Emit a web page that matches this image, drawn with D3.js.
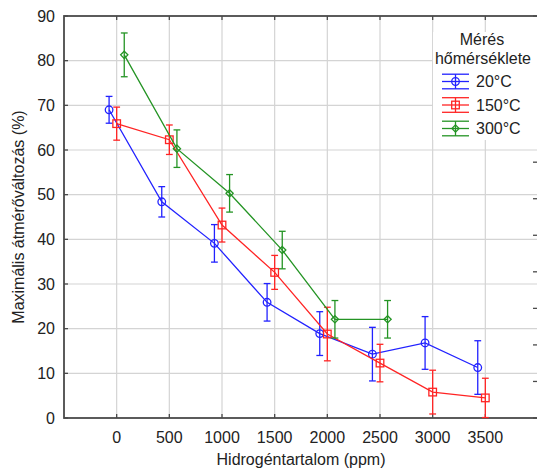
<!DOCTYPE html>
<html>
<head>
<meta charset="utf-8">
<script src="https://cdn.jsdelivr.net/npm/d3@7/dist/d3.min.js"></script>
<style>
    html, body { margin: 0; padding: 0; background: #fff; }
    svg { display: block; font-family: 'Liberation Sans', Arial, sans-serif; }
</style>
</head>
<body>
<svg id="chart" width="537" height="468"></svg>
<script>
// hydrogen content categories (ppm)
const hydrogen = [0, 500, 1000, 1500, 2000, 2500, 3000, 3500]
const xTicks = [0, 500, 1000, 1500, 2000, 2500, 3000, 3500]
const yTicks = [0, 10, 20, 30, 40, 50, 60, 70, 80, 90]

// measurement temperatures
const seriesNames = ['20°C', '150°C', '300°C']
const values20 = [69.0, 48.4, 39.1, 25.9, 18.9, 14.3, 16.8, 11.3]
const err20 = [3.0, 3.4, 4.2, 4.2, 4.9, 6.0, 5.9, 6.0]
const values150 = [65.9, 62.3, 43.2, 32.6, 18.8, 12.3, 5.8, 4.5]
const err150 = [3.7, 3.3, 3.8, 3.8, 6.0, 4.2, 4.9, 4.4]
const values300 = [81.3, 60.3, 50.3, 37.6, 22.1, 22.1]
const err300 = [4.9, 4.2, 4.2, 4.2, 4.2, 4.2]

const BLUE = '#2222ff'
const RED = '#ff2424'
const GREEN = '#249424'
const GRID = '#d4d4d4'
const AXIS = '#4a4a4a'
const TEXT = '#222'
const FONT = 16

// small horizontal dodge so the error bars do not overlap (ppm)
const series = [
    {name: seriesNames[0], values: values20, err: err20, color: BLUE, shape: 'circle', dodge: -72},
    {name: seriesNames[1], values: values150, err: err150, color: RED, shape: 'square', dodge: 0},
    {name: seriesNames[2], values: values300, err: err300, color: GREEN, shape: 'diamond', dodge: 72}
]

const margin = {left: 64, top: 16, right: -1, bottom: 50}
const width = 537, height = 468
const svg = d3.select('#chart')

const x = d3.scaleLinear().domain([-500, 4000]).range([margin.left, width - margin.right])
const y = d3.scaleLinear().domain([0, 90]).range([height - margin.bottom, margin.top])
// second (unlabelled) scale on the right frame
const yRight = d3.scaleLinear().domain([0, 11]).range(y.range())

const x0 = x.range()[0], x1 = x.range()[1]
const y0 = y.range()[0], y1 = y.range()[1]

// grid
svg.append('g').selectAll('line.vgrid')
    .data(xTicks).enter().append('line')
        .attr('x1', (d) => x(d)).attr('x2', (d) => x(d))
        .attr('y1', y1).attr('y2', y0)
        .attr('stroke', GRID).attr('stroke-width', 1.2)

svg.append('g').selectAll('line.hgrid')
    .data(yTicks.slice(1, -1)).enter().append('line')
        .attr('x1', x0).attr('x2', x1)
        .attr('y1', (d) => y(d)).attr('y2', (d) => y(d))
        .attr('stroke', GRID).attr('stroke-width', 1.2)

// inward ticks
const ticks = svg.append('g').attr('stroke', AXIS).attr('stroke-width', 1.3)
ticks.selectAll('.tb').data(xTicks).enter().append('line')
    .attr('x1', (d) => x(d)).attr('x2', (d) => x(d)).attr('y1', y0).attr('y2', y0 - 4)
ticks.selectAll('.tt').data(xTicks).enter().append('line')
    .attr('x1', (d) => x(d)).attr('x2', (d) => x(d)).attr('y1', y1).attr('y2', y1 + 4)
ticks.selectAll('.tl').data(yTicks).enter().append('line')
    .attr('x1', x0).attr('x2', x0 + 4).attr('y1', (d) => y(d)).attr('y2', (d) => y(d))
ticks.selectAll('.tr').data(d3.range(0, 12)).enter().append('line')
    .attr('x1', x1).attr('x2', x1 - 5).attr('y1', (d) => yRight(d)).attr('y2', (d) => yRight(d))

// frame
svg.append('rect')
    .attr('x', x0).attr('y', y1)
    .attr('width', x1 - x0).attr('height', y0 - y1)
    .attr('fill', 'none').attr('stroke', AXIS).attr('stroke-width', 1.8)

// tick labels
svg.append('g').selectAll('text')
    .data(xTicks).enter().append('text')
        .attr('x', (d) => x(d)).attr('y', y0 + 25)
        .attr('text-anchor', 'middle')
        .attr('font-size', FONT).attr('fill', TEXT)
        .text((d) => d)

svg.append('g').selectAll('text')
    .data(yTicks).enter().append('text')
        .attr('x', x0 - 9).attr('y', (d) => y(d) + 5.7)
        .attr('text-anchor', 'end')
        .attr('font-size', FONT).attr('fill', TEXT)
        .text((d) => d)

// axis titles
svg.append('text')
    .attr('x', 301).attr('y', 465)
    .attr('text-anchor', 'middle').attr('font-size', FONT).attr('fill', TEXT)
    .text('Hidrogéntartalom (ppm)')

svg.append('text')
    .attr('transform', `translate(24, ${(y0 + y1) / 2}) rotate(-90)`)
    .attr('text-anchor', 'middle').attr('font-size', FONT).attr('fill', TEXT)
    .text('Maximális átmérőváltozás (%)')

// markers
const drawMarker = (g, shape, color, cx, cy) => {
    if (shape === 'circle') {
        g.append('circle').attr('cx', cx).attr('cy', cy).attr('r', 3.8)
            .attr('fill', 'none').attr('stroke', color).attr('stroke-width', 1.3)
    } else if (shape === 'square') {
        g.append('rect').attr('x', cx - 3.8).attr('y', cy - 3.8).attr('width', 7.6).attr('height', 7.6)
            .attr('fill', 'none').attr('stroke', color).attr('stroke-width', 1.3)
    } else {
        g.append('path').attr('d', `M${cx},${cy - 3.6}L${cx + 3.6},${cy}L${cx},${cy + 3.6}L${cx - 3.6},${cy}Z`)
            .attr('fill', 'none').attr('stroke', color).attr('stroke-width', 1.3)
    }
}

const line = d3.line()
    .x((d) => x(d.h))
    .y((d) => y(d.v))

series.forEach((s) => {
    const pts = s.values.map((v, i) => ({h: hydrogen[i] + s.dodge, v: v, e: s.err[i]}))
    const g = svg.append('g')

    g.append('path')
        .datum(pts)
        .attr('d', line)
        .attr('fill', 'none').attr('stroke', s.color).attr('stroke-width', 1.3)

    pts.forEach((p) => {
        const px = x(p.h)
        g.append('line').attr('x1', px).attr('x2', px)
            .attr('y1', y(p.v + p.e)).attr('y2', y(p.v - p.e))
            .attr('stroke', s.color).attr('stroke-width', 1.3)
        ;[p.v + p.e, p.v - p.e].forEach((v) => {
            g.append('line').attr('x1', px - 3.4).attr('x2', px + 3.4)
                .attr('y1', y(v)).attr('y2', y(v))
                .attr('stroke', s.color).attr('stroke-width', 1.3)
        })
        drawMarker(g, s.shape, s.color, px, y(p.v))
    })
})

// legend
const legend = svg.append('g')
legend.append('rect')
    .attr('x', 433).attr('y', 32).attr('width', 110).attr('height', 108)
    .attr('fill', '#fff')
legend.append('text')
    .attr('x', 482).attr('y', 45).attr('text-anchor', 'middle')
    .attr('font-size', FONT).attr('fill', TEXT).text('Mérés')
legend.append('text')
    .attr('x', 483).attr('y', 64).attr('text-anchor', 'middle')
    .attr('font-size', FONT).attr('fill', TEXT).text('hőmérséklete')

series.forEach((s, i) => {
    const cy = 81.5 + i * 23.5
    const g = legend.append('g')
    ;[-7.3, 0, 7.3].forEach((dy) => {
        g.append('line').attr('x1', 442).attr('x2', 469)
            .attr('y1', cy + dy).attr('y2', cy + dy)
            .attr('stroke', s.color).attr('stroke-width', 1.3)
    })
    g.append('line').attr('x1', 455.5).attr('x2', 455.5)
        .attr('y1', cy - 7.3).attr('y2', cy + 7.3)
        .attr('stroke', s.color).attr('stroke-width', 1.3)
    drawMarker(g, s.shape, s.color, 455.5, cy)
    g.append('text')
        .attr('x', 476).attr('y', cy + 5.7)
        .attr('font-size', FONT).attr('fill', TEXT)
        .text(s.name)
})
</script>
</body>
</html>
